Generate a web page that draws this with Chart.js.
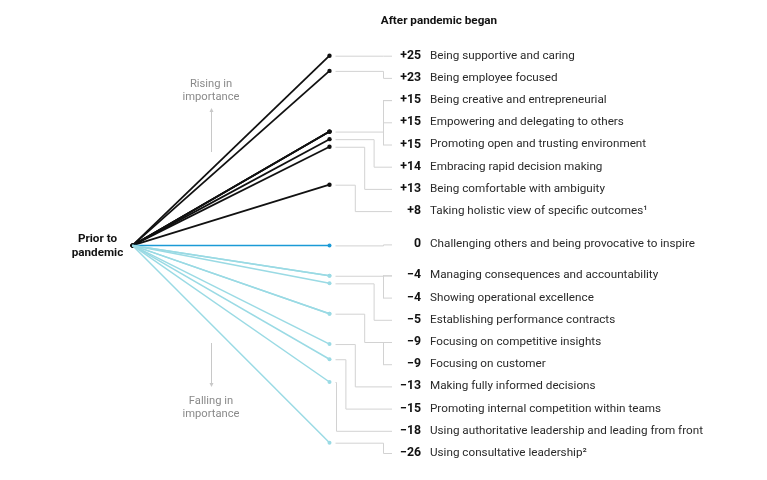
<!DOCTYPE html>
<html>
<head>
<meta charset="utf-8">
<script src="https://cdn.jsdelivr.net/npm/chart.js@4.4.1/dist/chart.umd.min.js"></script>
<style>
  html, body { margin: 0; padding: 0; background: #fff; }
  #wrap { width: 767px; height: 480px; }
</style>
</head>
<body>
<div id="wrap"><canvas id="chart" width="767" height="480"></canvas></div>
<script>
// Change in importance of leadership behaviours, prior to vs after pandemic began
const labels = [
  'Being supportive and caring',
  'Being employee focused',
  'Being creative and entrepreneurial',
  'Empowering and delegating to others',
  'Promoting open and trusting environment',
  'Embracing rapid decision making',
  'Being comfortable with ambiguity',
  'Taking holistic view of specific outcomes\u00B9',
  'Challenging others and being provocative to inspire',
  'Managing consequences and accountability',
  'Showing operational excellence',
  'Establishing performance contracts',
  'Focusing on competitive insights',
  'Focusing on customer',
  'Making fully informed decisions',
  'Promoting internal competition within teams',
  'Using authoritative leadership and leading from front',
  'Using consultative leadership\u00B2'
];
const values = [25, 23, 15, 15, 15, 14, 13, 8, 0, -4, -4, -5, -9, -9, -13, -15, -18, -26];
const startLabel = ['Prior to', 'pandemic'];
const endLabel = 'After pandemic began';
const risingText = ['Rising in', 'importance'];
const fallingText = ['Falling in', 'importance'];

const FONT = 'Roboto, "Liberation Sans", Arial, sans-serif';
const colors = {
  rising: '#111111',
  zero: '#1b9ad6',
  falling: '#9adae4',
  connector: '#d2d2d2',
  note: '#8a8a8a',
  arrow: '#c8c8c8',
  text: '#2a2a2a'
};

function fmt(v) {
  if (v > 0) return '+' + v;
  if (v < 0) return '\u2212' + Math.abs(v);
  return '0';
}

function lineColor(v) {
  if (v > 0) return colors.rising;
  if (v < 0) return colors.falling;
  return colors.zero;
}

// label row positions: rising rows evenly spaced from the top value,
// zero row on the baseline, falling rows evenly spaced below it
function rowPositions(yScale) {
  const step = 22.2;
  const top = yScale.getPixelForValue(values[0]);
  const y0 = yScale.getPixelForValue(0);
  let fallIdx = 0;
  return values.map((v, i) => {
    if (v > 0) return top + i * step;
    if (v === 0) return y0 - 1;
    return y0 + 30 + (fallIdx++) * step;
  });
}

const connectorPlugin = {
  id: 'connectors',
  afterDatasetsDraw(chart) {
    const ctx = chart.ctx;
    const xs = chart.scales.x, ys = chart.scales.y;
    const endX = xs.getPixelForValue(1) + 6;
    const bracketX = 383;
    const tickEnd = 392;
    const rows = rowPositions(ys);

    // group identical consecutive values
    const groups = [];
    values.forEach((v, i) => {
      const g = groups[groups.length - 1];
      if (g && g.v === v) g.rows.push(rows[i]);
      else groups.push({ v: v, rows: [rows[i]] });
    });

    ctx.save();
    ctx.strokeStyle = colors.connector;
    ctx.lineWidth = 1;
    groups.forEach((g, gi) => {
      const ey = ys.getPixelForValue(g.v);
      const r1 = g.rows[0], rn = g.rows[g.rows.length - 1];
      g.lo = Math.min(ey, r1);
      g.hi = Math.max(ey, rn);
      let depth = 0;
      for (let k = 0; k < gi; k++) {
        const o = groups[k];
        if (o.hi > g.lo + 0.5 && o.lo < g.hi - 0.5 && o.v !== 0 && Math.sign(o.v) === Math.sign(g.v)) {
          depth = Math.max(depth, o.depth + 1);
        }
      }
      g.depth = depth;
      const elbow = bracketX - 9.4 * depth;
      ctx.beginPath();
      ctx.moveTo(endX, ey + 0.5);
      ctx.lineTo(elbow + 0.5, ey + 0.5);
      ctx.lineTo(elbow + 0.5, r1 + 0.5);
      ctx.lineTo(tickEnd, r1 + 0.5);
      ctx.stroke();
      if (g.rows.length > 1) {
        ctx.beginPath();
        ctx.moveTo(bracketX + 0.5, r1);
        ctx.lineTo(bracketX + 0.5, rn + 0.5);
        ctx.stroke();
        g.rows.forEach(r => {
          ctx.beginPath();
          ctx.moveTo(bracketX, r + 0.5);
          ctx.lineTo(tickEnd, r + 0.5);
          ctx.stroke();
        });
      }
    });
    ctx.restore();
  },
  afterDraw(chart) {
    const ctx = chart.ctx;
    const xs = chart.scales.x, ys = chart.scales.y;
    const rows = rowPositions(ys);
    const ox = xs.getPixelForValue(0), oy = ys.getPixelForValue(0);

    ctx.save();
    ctx.textBaseline = 'middle';
    values.forEach((v, i) => {
      ctx.fillStyle = '#111';
      ctx.font = 'bold 12.3px ' + FONT;
      ctx.textAlign = 'right';
      ctx.fillText(fmt(v), 421, rows[i]);
      ctx.fillStyle = colors.text;
      ctx.font = '11.7px ' + FONT;
      ctx.textAlign = 'left';
      ctx.fillText(labels[i], 430, rows[i]);
    });

    // header and start label
    ctx.fillStyle = '#111';
    ctx.font = 'bold 11.7px ' + FONT;
    ctx.textAlign = 'center';
    ctx.fillText(endLabel, 439, 21);
    ctx.font = 'bold 11.7px ' + FONT;
    ctx.fillText(startLabel[0], ox - 35, oy - 6);
    ctx.fillText(startLabel[1], ox - 35, oy + 8);

    // rising / falling notes with arrows
    const ax = 211;
    ctx.fillStyle = colors.note;
    ctx.font = '11.2px ' + FONT;
    ctx.fillText(risingText[0], ax, 84);
    ctx.fillText(risingText[1], ax, 97);
    ctx.fillText(fallingText[0], ax, 401);
    ctx.fillText(fallingText[1], ax, 414);

    ctx.strokeStyle = colors.arrow;
    ctx.fillStyle = colors.arrow;
    ctx.lineWidth = 1;
    ctx.beginPath();
    ctx.moveTo(ax + 0.5, 111); ctx.lineTo(ax + 0.5, 152);
    ctx.moveTo(ax + 0.5, 343); ctx.lineTo(ax + 0.5, 384);
    ctx.stroke();
    ctx.beginPath();
    ctx.moveTo(ax + 0.5, 108); ctx.lineTo(ax - 1.5, 112); ctx.lineTo(ax + 2.5, 112); ctx.closePath();
    ctx.moveTo(ax + 0.5, 387); ctx.lineTo(ax - 1.5, 383); ctx.lineTo(ax + 2.5, 383); ctx.closePath();
    ctx.fill();
    ctx.restore();
  }
};

// draw falling lines first, then zero, then rising on top
const order = values.map((v, i) => i).sort((a, b) => {
  const rank = v => (v < 0 ? 0 : v === 0 ? 1 : 2);
  return rank(values[a]) - rank(values[b]);
});

const datasets = order.map(i => {
  const v = values[i];
  const c = lineColor(v);
  return {
    label: labels[i],
    data: [{ x: 0, y: 0 }, { x: 1, y: v }],
    borderColor: c,
    backgroundColor: c,
    borderWidth: v > 0 ? 1.8 : 1.5,
    pointRadius: v > 0 ? [2, 2.2] : [0, 2],
    pointBorderWidth: 0,
    tension: 0,
    clip: false
  };
});

new Chart(document.getElementById('chart'), {
  type: 'line',
  data: { datasets: datasets },
  options: {
    responsive: false,
    animation: false,
    devicePixelRatio: 1,
    layout: { padding: { left: 132.5, right: 437.5, top: 55.7, bottom: 37.3 } },
    plugins: {
      legend: { display: false },
      tooltip: { enabled: false },
      title: { display: false }
    },
    scales: {
      x: { type: 'linear', min: 0, max: 1, display: false },
      y: { type: 'linear', min: -26, max: 25, display: false }
    }
  },
  plugins: [connectorPlugin]
});
</script>
</body>
</html>
